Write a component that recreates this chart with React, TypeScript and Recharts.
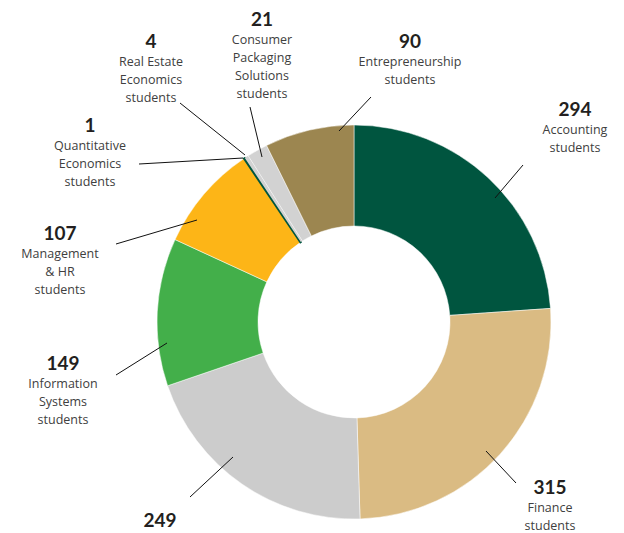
import React from 'react';
import { PieChart, Pie, Cell } from 'recharts';

// majors, in clockwise order starting at 12 o'clock
const majors = [
  'Accounting',
  'Finance',
  'Other',
  'Information Systems',
  'Management & HR',
  'Quantitative Economics',
  'Real Estate Economics',
  'Consumer Packaging Solutions',
  'Entrepreneurship',
];
const students = [294, 315, 249, 149, 107, 1, 4, 21, 90];
const labelText = [
  ['Accounting', 'students'],
  ['Finance', 'students'],
  [],
  ['Information', 'Systems', 'students'],
  ['Management', '& HR', 'students'],
  ['Quantitative', 'Economics', 'students'],
  ['Real Estate', 'Economics', 'students'],
  ['Consumer', 'Packaging', 'Solutions', 'students'],
  ['Entrepreneurship', 'students'],
];
const colors = [
  '#00553F', '#DABB83', '#CCCCCC', '#43AF4A', '#FDB517',
  '#00553F', '#D2D2D2', '#D2D2D2', '#9C8650',
];

// callout placement, relative to the pie centre:
// [line start x, y, line end x, y, text centre x, number baseline y]
const callouts = [
  [141, -124, 169, -157, 221, -206],
  [132, 129, 162, 161, 196, 172],
  [-121, 135, -164, 175, -194, 205],
  [-187, 21, -238, 53, -291, 48],
  [-157, -102, -238, -78, -294, -82],
  [-111, -164, -215, -158, -264, -190],
  [-109, -167, -174, -219, -203, -274],
  [-92, -165, -104, -215, -92, -296],
  [-15, -191, 17, -225, 56, -274],
];

const data = majors.map((name, i) => ({ name, value: students[i] }));

const renderLabel = (props: any) => {
  const { cx, cy, index, value } = props;
  const [x1, y1, x2, y2, tx, ty] = callouts[index];
  return (
    <g key={`lbl-${index}`}>
      <line x1={cx + x1} y1={cy + y1} x2={cx + x2} y2={cy + y2} stroke="#111" strokeWidth={1} />
      <text
        x={cx + tx}
        y={cy + ty}
        textAnchor="middle"
        fill="#231F20"
        fontSize={19}
        fontWeight={700}
        fontFamily="Lato, sans-serif"
      >
        {value}
      </text>
      {labelText[index].map((t, j) => (
        <text
          key={j}
          x={cx + tx}
          y={cy + ty + 18 + j * 18}
          textAnchor="middle"
          fill="#404040"
          fontSize={12.5}
          fontFamily="'Open Sans', sans-serif"
        >
          {t}
        </text>
      ))}
    </g>
  );
};

export default function App() {
  return (
    <div style={{ width: 616, height: 525, background: '#fff' }}>
      <PieChart
        width={616}
        height={525}
        margin={{ top: 0, right: 0, bottom: 0, left: 0 }}
        style={{ overflow: 'visible' }}
      >
        <Pie
          data={data}
          dataKey="value"
          nameKey="name"
          cx={346}
          cy={314}
          innerRadius={96}
          outerRadius={197}
          startAngle={90}
          endAngle={-270}
          label={renderLabel}
          labelLine={false}
          isAnimationActive={false}
        >
          {data.map((d, i) => {
            // the 1-student slice gets a same-colour stroke so it stays visible
            const tiny = d.value < 2;
            const small = d.value < 10;
            return (
              <Cell
                key={d.name}
                fill={colors[i]}
                stroke={tiny || small ? colors[i] : '#fff'}
                strokeWidth={tiny ? 2 : small ? 0 : 0.5}
              />
            );
          })}
        </Pie>
      </PieChart>
    </div>
  );
}
